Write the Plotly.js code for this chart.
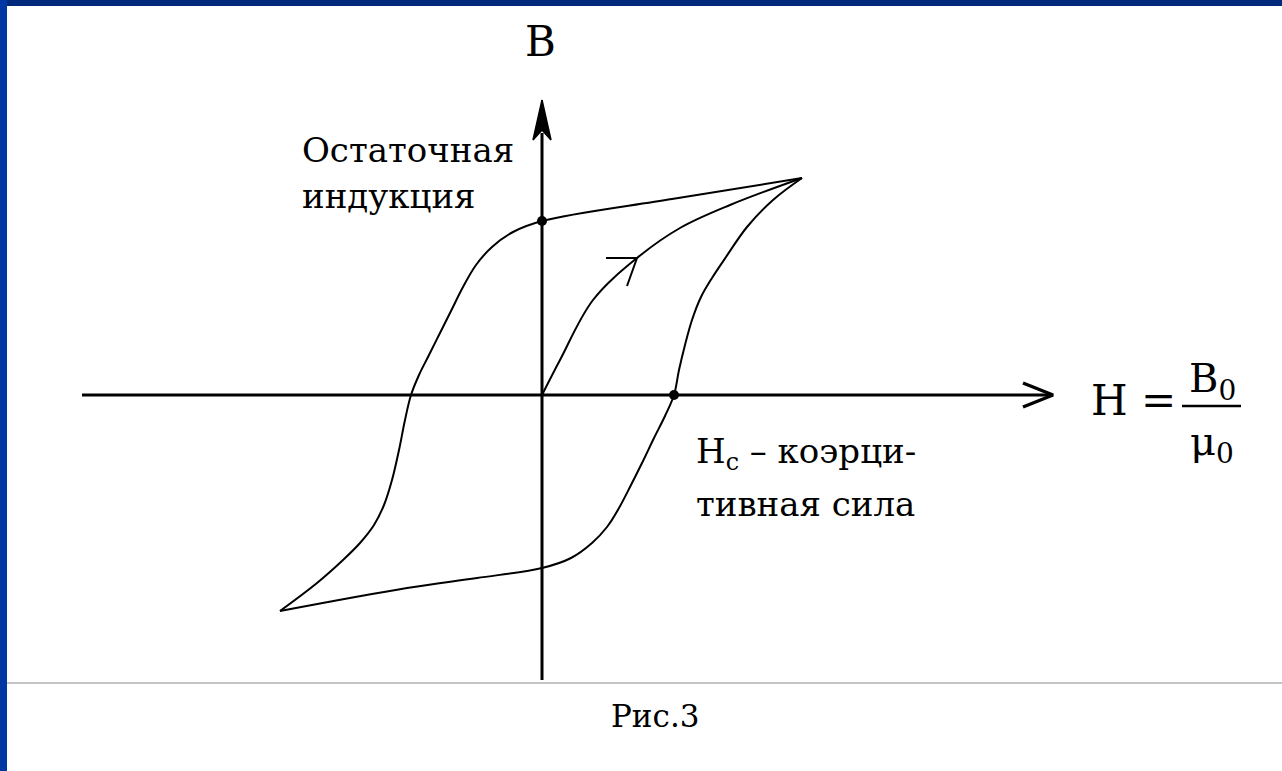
<!DOCTYPE html>
<html>
<head>
<meta charset="utf-8">
<script src="https://cdn.plot.ly/plotly-3.0.1.min.js"></script>
<style>
  html, body { margin:0; padding:0; background:#ffffff; width:1282px; height:771px; overflow:hidden; }
  #chart { position:absolute; left:0; top:0; width:1282px; height:771px; }
  #topband { position:absolute; left:0; top:0; width:1282px; height:6px; background:#00297b; }
  #leftband { position:absolute; left:0; top:0; width:7px; height:771px; background:#0037a3; }
  #rule { position:absolute; left:7px; top:682px; width:1275px; height:2px; background:#c4c4c4; }
</style>
</head>
<body>
<div id="chart"></div>
<div id="rule"></div>
<div id="topband"></div>
<div id="leftband"></div>
<script>
// ---- Data (H, B in drawing units; origin at axis crossing) ----
// Initial magnetisation curve
const initH = [0, 18, 51, 95, 138, 188, 260];
const initB = [0, 35, 95, 137, 167, 190, 217];

// Descending branch: from +saturation tip to -saturation tip
const descH = [260, 130, 0, -29, -50, -66, -79, -91, -102, -113, -123, -131, -137, -143, -150, -158, -168, -182, -199, -225, -262];
const descB = [217, 196, 174, 163, 148, 130, 108, 84, 62, 40, 20, 0, -25, -55, -85, -110, -130, -148, -165, -188, -216];

// Ascending branch: from -saturation tip to +saturation tip
const ascH = [-262, -135, -65, 0, 29, 50, 65, 77, 89, 101, 112, 123, 132, 137, 143, 150, 159, 170, 184, 205, 231, 260];
const ascB = [-216, -193, -183, -173, -163, -148, -132, -113, -90, -66, -43, -21, 0, 25, 50, 75, 98, 117, 138, 168, 195, 217];

// Marked points: remanent induction and coercive force
const markH = [0, 132];
const markB = [174, 0];

// Axes extents
const hAxisH = [-460, 511];
const hAxisB = [0, 0];
const bAxisH = [0, 0];
const bAxisB = [-285, 262];

// Arrowheads
const hArrowH = [481, 511, 481];
const hArrowB = [12, 0, -12];
const bArrowH = [0, -9, 0, 9, 0];
const bArrowB = [295, 255, 265, 255, 295];

// Direction arrow on the initial curve
const dirH = [64, 95, 85];
const dirB = [137, 137, 109];

const black = '#000000';
const serif = 'DejaVu Serif';

const traces = [
  {x: hAxisH, y: hAxisB, mode: 'lines', line: {color: black, width: 3}},
  {x: bAxisH, y: bAxisB, mode: 'lines', line: {color: black, width: 3}},
  {x: hArrowH, y: hArrowB, mode: 'lines', line: {color: black, width: 3.5}},
  {x: bArrowH, y: bArrowB, mode: 'lines', fill: 'toself', fillcolor: black, line: {color: black, width: 1.5}},
  {x: initH, y: initB, mode: 'lines', line: {color: black, width: 2, shape: 'spline', smoothing: 1}},
  {x: descH, y: descB, mode: 'lines', line: {color: black, width: 2, shape: 'spline', smoothing: 1}},
  {x: ascH, y: ascB, mode: 'lines', line: {color: black, width: 2, shape: 'spline', smoothing: 1}},
  {x: dirH, y: dirB, mode: 'lines', line: {color: black, width: 2}},
  {x: markH, y: markB, mode: 'markers', marker: {color: black, size: 10}}
];

function ann(text, x, y, size, xanchor) {
  return {text: text, x: x, y: y, xref: 'x', yref: 'y', showarrow: false,
          xanchor: xanchor || 'left', yanchor: 'middle',
          font: {family: serif, size: size, color: black}};
}

const layout = {
  width: 1282, height: 771,
  margin: {l: 0, r: 0, t: 0, b: 0, pad: 0},
  paper_bgcolor: '#ffffff', plot_bgcolor: '#ffffff',
  showlegend: false,
  font: {family: serif},
  xaxis: {range: [-542, 740], visible: false, fixedrange: true},
  yaxis: {range: [-376, 395], visible: false, fixedrange: true},
  annotations: [
    ann('B', -2, 354, 42, 'center'),
    ann('Остаточная', -242, 245, 34),
    ann('индукция', -242, 199, 34),
    ann('H<sub>c</sub> – коэрци-', 152, -58, 34),
    ann('тивная сила', 152, -109, 34),
    ann('H =', 547, -5, 42),
    ann('B<sub>0</sub>', 670, 14, 40, 'center'),
    ann('μ<sub>0</sub>', 670, -49, 40, 'center'),
    ann('Рис.3', 113, -321, 31, 'center')
  ],
  shapes: [
    {type: 'line', xref: 'x', yref: 'y', x0: 640, x1: 699, y0: -11, y1: -11, line: {color: black, width: 2.5}}
  ]
};

Plotly.newPlot('chart', traces, layout, {staticPlot: true, displayModeBar: false});
</script>
</body>
</html>
